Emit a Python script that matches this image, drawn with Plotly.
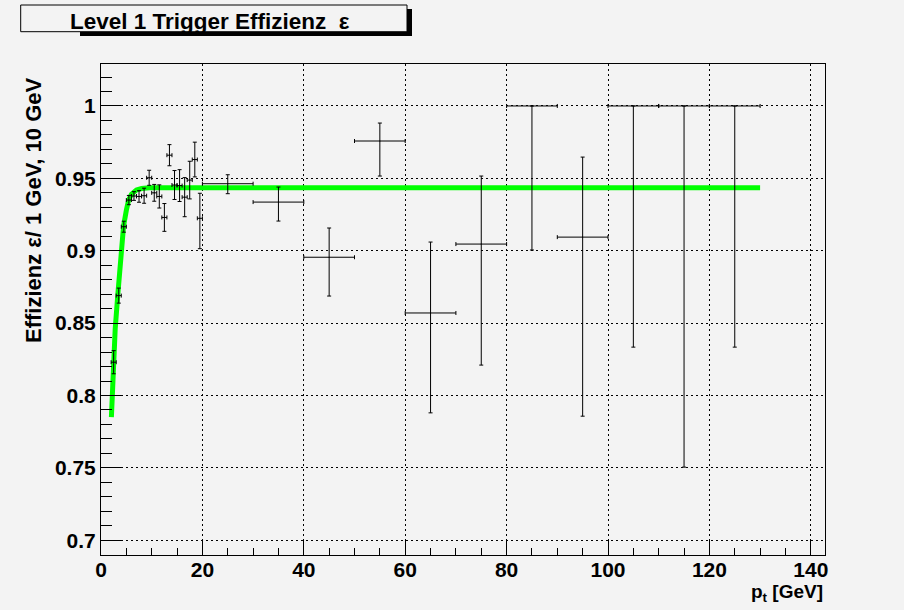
import plotly.graph_objects as go

# ---------------- data ----------------
pt_fine = [2.5, 3.5, 4.5, 5.5, 6.5, 7.5, 8.5, 9.5, 10.5, 11.5, 12.5, 13.5,
           14.5, 15.5, 16.5, 17.5, 18.5, 19.5]
eff_fine = [0.823, 0.869, 0.9166, 0.935, 0.9378, 0.9375, 0.938, 0.9504, 0.940,
            0.9375, 0.923, 0.966, 0.9454, 0.945, 0.937, 0.9488, 0.963, 0.9224]
err_fine_up = [0.008, 0.0052, 0.0038, 0.0032, 0.003, 0.004, 0.0052, 0.0052, 0.0058,
               0.008, 0.0096, 0.0073, 0.010, 0.011, 0.0135, 0.013, 0.012, 0.0173]
err_fine_dn = [0.008, 0.0052, 0.0038, 0.0032, 0.003, 0.004, 0.0052, 0.0052, 0.0058,
               0.008, 0.0096, 0.0073, 0.010, 0.011, 0.0135, 0.013, 0.012, 0.021]
ex_fine = [0.5] * len(pt_fine)

pt_coarse = [25, 35, 45, 55, 65, 75, 85, 95, 105, 115, 125]
eff_coarse = [0.9463, 0.9336, 0.8955, 0.9758, 0.857, 0.9046, 1.0, 0.9094, 1.0, 1.0, 1.0]
err_coarse_up = [0.0062, 0.0104, 0.0202, 0.0124, 0.049, 0.047, 0.0, 0.0553, 0.0, 0.0, 0.0]
err_coarse_dn = [0.0069, 0.0131, 0.0268, 0.0242, 0.069, 0.0836, 0.0995, 0.1237, 0.1666, 0.2495, 0.1666]
ex_coarse = [5] * len(pt_coarse)

fit_x = [2.05, 2.45, 2.8, 3.3, 3.8, 4.0, 4.45, 5.0, 5.45, 6.0, 7.0, 8.0, 9.5, 130]
fit_y = [0.785, 0.823, 0.846, 0.869, 0.891, 0.899, 0.917, 0.928, 0.935, 0.939,
         0.942, 0.943, 0.9435, 0.9435]

x_ticks = [0, 20, 40, 60, 80, 100, 120, 140]
y_ticks = [0.7, 0.75, 0.8, 0.85, 0.9, 0.95, 1.0]
y_tick_text = ["0.7", "0.75", "0.8", "0.85", "0.9", "0.95", "1"]

# ---------------- geometry ----------------
W, H = 904, 610
L, R, T, B = 101, 825, 64, 555
BG = "#f3f3f3"
FONT = "Liberation Sans, Arial, sans-serif"


def px2x(p):
    return (p - L) / (R - L)


def px2y(p):
    return (B - p) / (B - T)


fig = go.Figure()

fig.add_trace(go.Scatter(
    x=fit_x, y=fit_y, mode="lines", line=dict(color="#00ff00", width=5),
    hoverinfo="skip", showlegend=False))

err_style = dict(type="data", symmetric=False, color="black", thickness=1, width=2)

fig.add_trace(go.Scatter(
    x=pt_fine, y=eff_fine, mode="markers",
    marker=dict(size=1, color="black"),
    error_y=dict(array=err_fine_up, arrayminus=err_fine_dn, **err_style),
    error_x=dict(array=ex_fine, arrayminus=ex_fine, **err_style),
    showlegend=False))

fig.add_trace(go.Scatter(
    x=pt_coarse, y=eff_coarse, mode="markers",
    marker=dict(size=1, color="black"),
    error_y=dict(array=err_coarse_up, arrayminus=err_coarse_dn, **err_style),
    error_x=dict(array=ex_coarse, arrayminus=ex_coarse, **err_style),
    showlegend=False))

fig.update_xaxes(
    range=[0, 142.8], tickmode="array", tickvals=x_ticks,
    ticks="inside", ticklen=14, tickcolor="black", tickwidth=1,
    showline=True, linecolor="black", linewidth=1, mirror=True,
    showgrid=True, gridcolor="black", gridwidth=1, griddash="2px,3px",
    zeroline=False, ticklabelstandoff=-4,
    tickfont=dict(family=FONT, size=21, color="black", weight="bold"),
    minor=dict(ticks="inside", ticklen=7, dtick=5, tick0=0, tickcolor="black",
               showgrid=False),
)
fig.update_yaxes(
    range=[0.6898, 1.029], tickmode="array", tickvals=y_ticks, ticktext=y_tick_text,
    ticks="inside", ticklen=21, tickcolor="black", tickwidth=1,
    showline=True, linecolor="black", linewidth=1, mirror=True,
    showgrid=True, gridcolor="black", gridwidth=1, griddash="2px,3px",
    zeroline=False,
    tickfont=dict(family=FONT, size=21, color="black", weight="bold"),
    minor=dict(ticks="inside", ticklen=11, dtick=0.01, tick0=0.7, tickcolor="black",
               showgrid=False),
)

shapes = [
    # title box shadow
    dict(type="rect", xref="paper", yref="paper",
         x0=px2x(407), x1=px2x(412), y0=px2y(36), y1=px2y(9),
         fillcolor="black", line=dict(width=0)),
    dict(type="rect", xref="paper", yref="paper",
         x0=px2x(80), x1=px2x(412), y0=px2y(36), y1=px2y(31.7),
         fillcolor="black", line=dict(width=0)),
    # title box
    dict(type="rect", xref="paper", yref="paper",
         x0=px2x(20.7), x1=px2x(407), y0=px2y(31.7), y1=px2y(5),
         fillcolor=BG, line=dict(color="black", width=1)),
]

annotations = [
    dict(text="Level 1 Trigger Effizienz\u00a0 ε", xref="paper", yref="paper",
         x=px2x(210), y=px2y(21.5), xanchor="center", yanchor="middle",
         showarrow=False, font=dict(family=FONT, size=22.5, color="black", weight="bold")),
    dict(text="Effizienz ε/ 1 GeV, 10 GeV", xref="paper", yref="paper",
         x=px2x(33), y=px2y(75), xanchor="center", yanchor="top", textangle=-90,
         showarrow=False, font=dict(family=FONT, size=22, color="black", weight="bold")),
    dict(text="p<sub>t</sub> [GeV]", xref="paper", yref="paper",
         x=1.0, y=px2y(579), xanchor="right", yanchor="top",
         showarrow=False, font=dict(family=FONT, size=19, color="black", weight="bold")),
]

fig.update_layout(
    width=W, height=H, autosize=False,
    margin=dict(l=L, r=W - R, t=T, b=H - B, pad=0),
    paper_bgcolor=BG, plot_bgcolor=BG,
    shapes=shapes, annotations=annotations,
    showlegend=False,
)

fig.write_html("out.html")
